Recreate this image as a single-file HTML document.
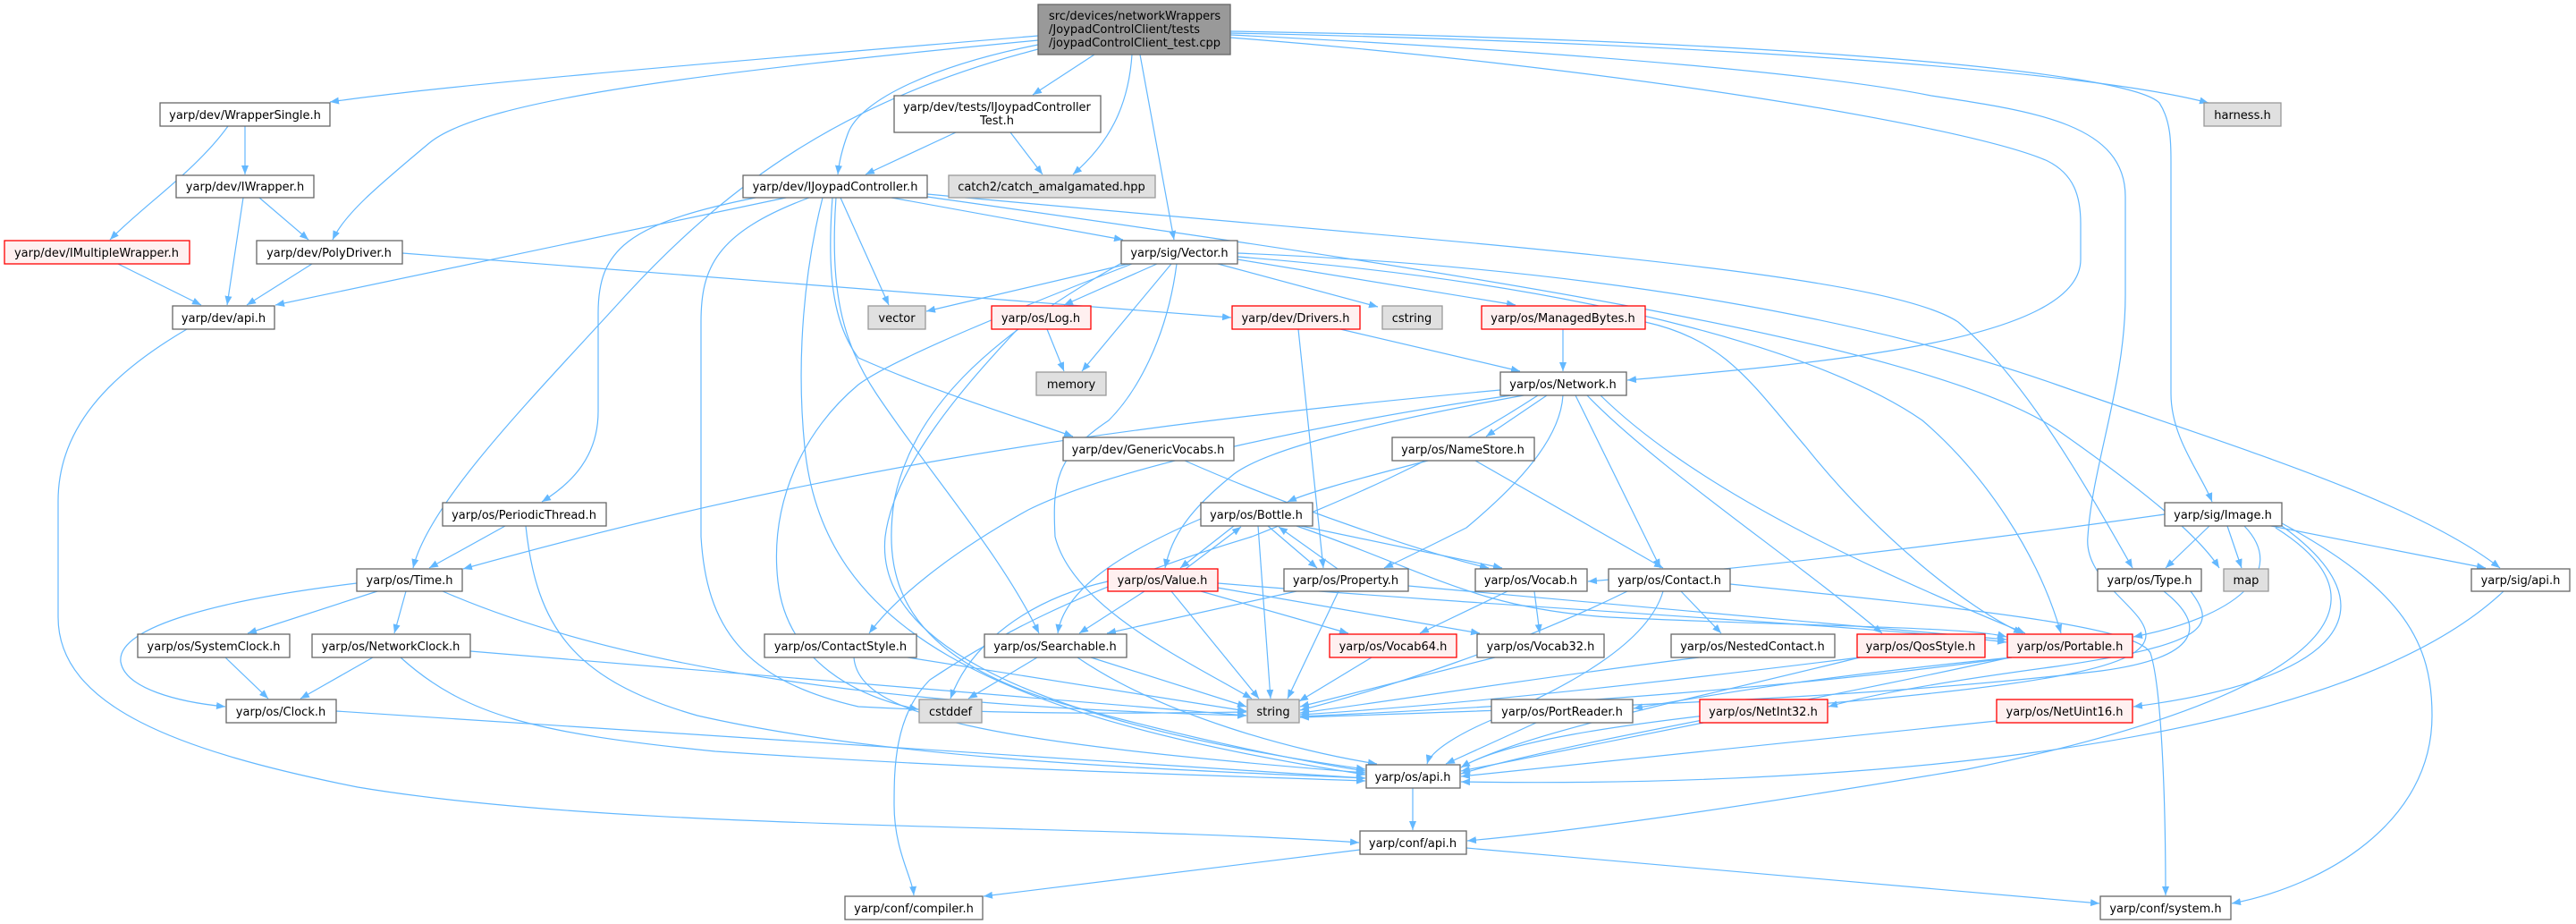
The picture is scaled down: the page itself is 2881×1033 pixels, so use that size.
<!DOCTYPE html>
<html><head><meta charset="utf-8"><style>
html,body{margin:0;padding:0;background:#fff;}
svg{display:block;}
.e{fill:none;stroke:#63b8ff;stroke-width:1.2;marker-end:url(#a);}
.n rect{fill:#fff;stroke:#666;stroke-width:1.3;}
.r rect{fill:#fff0f0;stroke:#ff0000;stroke-width:1.3;}
.g rect{fill:#e0e0e0;stroke:#999;stroke-width:1.3;}
.k rect{fill:#999;stroke:#666;stroke-width:1.3;}
text{font-family:"DejaVu Sans","Liberation Sans",sans-serif;font-size:13px;fill:#000;}
.c{text-anchor:middle;}
</style></head><body>
<svg width="2881" height="1033" viewBox="0 0 2881 1033" xmlns="http://www.w3.org/2000/svg">
<defs><marker id="a" markerUnits="userSpaceOnUse" markerWidth="11" markerHeight="8" refX="10" refY="4" orient="auto"><path d="M0,0 L10,4 L0,8 z" fill="#63b8ff"/></marker></defs>
<g>
<!-- root edges -->
<path class="e" d="M1161,40 C900,62 520,92 369,114"/>
<path class="e" d="M1161,45 C800,80 540,110 480,160 C420,210 385,240 372,268"/>
<path class="e" d="M1161,50 C1050,72 962,110 948,150 C940,172 938,185 937,195"/>
<path class="e" d="M1161,55 C950,110 820,200 700,330 C600,440 480,560 462,635"/>
<path class="e" d="M1224,61 L1155,106"/>
<path class="e" d="M1266,61 C1262,120 1240,160 1200,195"/>
<path class="e" d="M1275,61 L1313,268"/>
<path class="e" d="M1376,37 C1900,48 2330,78 2470,115"/>
<path class="e" d="M1376,42 C1800,75 2200,140 2290,180 C2320,195 2327,220 2327,250 L2327,290 C2327,380 2050,405 1820,425"/>
<path class="e" d="M1376,35 C2000,45 2380,80 2415,115 C2428,135 2428,160 2428,180 L2428,440 C2428,490 2462,530 2474,561"/>
<path class="e" d="M1376,39 C1800,60 2050,85 2160,107 C2280,125 2377,140 2377,220 L2377,330 C2377,430 2340,520 2335,600 C2330,650 2400,680 2400,710 C2400,745 2300,765 2000,790 C1800,810 1680,830 1634,858"/>
<!-- wrapper cluster -->
<path class="e" d="M274,141 L274,195"/>
<path class="e" d="M255,141 C220,190 160,230 123,268"/>
<path class="e" d="M290,221 L345,268"/>
<path class="e" d="M272,221 L254,341"/>
<path class="e" d="M132,295 L225,341"/>
<path class="e" d="M349,295 L276,341"/>
<path class="e" d="M450,283 L1377,355"/>
<path class="e" d="M209,368 C120,420 65,480 65,560 L65,690 C65,790 200,840 400,880 C700,930 1200,920 1520,942"/>
<!-- IJoypadController -->
<path class="e" d="M879,221 L308,341"/>
<path class="e" d="M845,221 C700,250 669,280 669,350 L669,460 C669,510 640,540 606,561"/>
<path class="e" d="M905,221 C800,260 784,300 784,360 L784,600 C790,700 830,760 960,790 C1150,800 1300,797 1394,796"/>
<path class="e" d="M931,221 C925,300 930,360 960,400 C1050,440 1150,470 1200,488"/>
<path class="e" d="M940,221 L994,341"/>
<path class="e" d="M997,221 L1256,268"/>
<path class="e" d="M935,221 C928,320 940,380 980,440 C1040,530 1120,620 1162,708"/>
<path class="e" d="M1037,217 C1600,270 2100,300 2190,360 C2260,420 2320,520 2385,635"/>
<path class="e" d="M1037,220 C1600,300 2150,380 2300,480 C2400,550 2460,600 2482,635"/>
<path class="e" d="M920,221 C900,300 890,400 900,500 C920,700 1100,800 1527,866"/>
<path class="e" d="M1069,148 L968,195"/>
<path class="e" d="M1130,148 L1166,195"/>
<!-- sig/Vector -->
<path class="e" d="M1262,295 L1036,348"/>
<path class="e" d="M1294,295 L1190,341"/>
<path class="e" d="M1310,295 L1210,415"/>
<path class="e" d="M1362,295 L1541,343"/>
<path class="e" d="M1384,290 L1695,341"/>
<path class="e" d="M1316,295 C1305,380 1270,440 1240,470 C1180,510 1177,540 1180,600 C1200,680 1330,740 1400,781"/>
<path class="e" d="M1266,295 C1150,340 1000,400 960,430 C900,480 860,560 870,650 C880,740 960,780 1027,793"/>
<path class="e" d="M1384,283 C1800,300 2100,360 2300,430 C2500,500 2700,560 2796,635"/>
<path class="e" d="M1384,287 C1800,320 2050,400 2150,470 C2220,530 2280,620 2305,708"/>
<path class="e" d="M1258,292 C1100,380 1020,460 1000,560 C985,660 1020,740 1200,790 C1350,830 1450,850 1527,862"/>
<!-- Log, Drivers, ManagedBytes -->
<path class="e" d="M1171,368 L1190,415"/>
<path class="e" d="M1138,368 C1080,430 1000,520 990,600 C980,700 1100,800 1527,860"/>
<path class="e" d="M1499,368 L1700,415"/>
<path class="e" d="M1452,368 L1480,635"/>
<path class="e" d="M1748,368 L1748,415"/>
<path class="e" d="M1840,360 C1930,380 1960,430 2020,500 C2100,600 2200,680 2262,708"/>
<!-- Network -->
<path class="e" d="M1730,442 L1662,488"/>
<path class="e" d="M1704,442 C1550,470 1420,500 1380,530 C1330,570 1310,600 1303,635"/>
<path class="e" d="M1748,442 C1745,490 1700,540 1640,590 C1600,610 1570,625 1548,635"/>
<path class="e" d="M1762,442 L1857,635"/>
<path class="e" d="M1775,442 C1850,520 2000,620 2105,708"/>
<path class="e" d="M1790,442 C1900,550 2100,640 2265,708"/>
<path class="e" d="M1678,436 C1200,480 900,530 518,636"/>
<path class="e" d="M1690,442 C1500,470 1250,520 1150,570 C1060,620 1000,670 972,708"/>
<path class="e" d="M1720,442 C1600,520 1500,560 1400,600 C1200,660 1100,720 1040,760 C1000,800 1000,860 1000,900 C1000,950 1020,980 1022,1001"/>
<!-- GenericVocabs, NameStore -->
<path class="e" d="M1325,515 C1450,570 1600,620 1665,635"/>
<path class="e" d="M1597,515 C1500,540 1460,552 1440,561"/>
<path class="e" d="M1650,515 L1860,635"/>
<!-- Bottle cluster -->
<path class="e" d="M1380,588 L1320,635"/>
<path class="e" d="M1326,636 L1388,589"/>
<path class="e" d="M1418,588 L1473,635"/>
<path class="e" d="M1496,636 L1430,589"/>
<path class="e" d="M1455,588 L1680,635"/>
<path class="e" d="M1407,588 L1421,781"/>
<path class="e" d="M1343,580 C1250,620 1190,660 1183,708"/>
<path class="e" d="M1450,588 C1600,640 1650,680 1800,690 C2000,700 2200,700 2244,712"/>
<path class="e" d="M1280,661 L1207,708"/>
<path class="e" d="M1310,661 L1408,781"/>
<path class="e" d="M1343,661 L1508,708"/>
<path class="e" d="M1350,655 L1655,708"/>
<path class="e" d="M1239,650 C1150,670 1085,720 1063,781"/>
<path class="e" d="M1362,652 C1700,680 2100,700 2244,718"/>
<path class="e" d="M1450,661 L1238,708"/>
<path class="e" d="M1497,661 L1440,781"/>
<path class="e" d="M1575,655 L2244,715"/>
<path class="e" d="M1686,661 L1588,708"/>
<path class="e" d="M1716,661 L1722,708"/>
<path class="e" d="M1534,735 L1453,784"/>
<path class="e" d="M1672,735 L1454,790"/>
<path class="e" d="M1880,661 L1925,708"/>
<path class="e" d="M1860,661 C1840,730 1720,780 1680,800 C1630,820 1600,840 1596,854"/>
<path class="e" d="M1935,653 C2200,680 2390,700 2405,730 C2418,770 2422,900 2422,1001"/>
<path class="e" d="M1820,661 C1700,720 1550,770 1454,794"/>
<path class="e" d="M1160,735 L1083,781"/>
<path class="e" d="M1220,735 L1394,790"/>
<path class="e" d="M1205,735 C1300,800 1450,840 1540,854"/>
<path class="e" d="M1015,735 L1394,795"/>
<path class="e" d="M955,735 C960,800 1100,830 1527,864"/>
<path class="e" d="M1900,735 C1700,760 1550,785 1454,797"/>
<path class="e" d="M2080,735 C1800,770 1600,790 1454,799"/>
<path class="e" d="M2250,735 C2000,770 1700,790 1454,801"/>
<!-- Time cluster -->
<path class="e" d="M422,661 L277,708"/>
<path class="e" d="M454,661 L441,708"/>
<path class="e" d="M399,652 C250,670 130,700 135,740 C140,770 200,785 252,790"/>
<path class="e" d="M495,661 C700,750 1000,790 1394,800"/>
<path class="e" d="M565,588 L480,635"/>
<path class="e" d="M588,588 C600,700 640,760 780,800 C1000,850 1300,860 1527,870"/>
<path class="e" d="M252,735 L300,781"/>
<path class="e" d="M417,735 L336,781"/>
<path class="e" d="M526,728 L1394,800"/>
<path class="e" d="M448,735 C520,800 600,820 800,840 C1100,860 1300,865 1527,873"/>
<path class="e" d="M376,795 C800,820 1200,850 1527,870"/>
<!-- api -->
<path class="e" d="M1580,881 L1580,928"/>
<path class="e" d="M1521,950 L1100,1002"/>
<path class="e" d="M1640,948 L2348,1010"/>
<path class="e" d="M1718,808 L1617,854"/>
<path class="e" d="M1905,808 L1634,862"/>
<path class="e" d="M2233,806 L1634,868"/>
<path class="e" d="M2080,735 C1900,780 1700,820 1634,858"/>
<path class="e" d="M2248,735 C2000,790 1750,830 1634,865"/>
<path class="e" d="M2250,735 C2000,760 1900,780 1827,792"/>
<path class="e" d="M2450,661 C2480,700 2470,720 2300,745 C2150,765 2080,780 2045,790"/>
<path class="e" d="M2420,661 C2470,700 2460,735 2350,750 C2100,780 1800,790 1454,802"/>
<!-- Image -->
<path class="e" d="M2421,575 C2100,620 1900,640 1776,650"/>
<path class="e" d="M2471,588 L2422,635"/>
<path class="e" d="M2491,588 L2507,635"/>
<path class="e" d="M2540,588 L2780,635"/>
<path class="e" d="M2510,588 C2560,640 2500,690 2386,712"/>
<path class="e" d="M2552,588 C2680,680 2620,760 2386,790"/>
<path class="e" d="M2552,585 C2690,660 2720,720 2720,800 C2720,920 2600,990 2496,1010"/>
<path class="e" d="M2545,590 C2720,700 2500,800 2200,860 C1900,910 1750,930 1641,940"/>
<path class="e" d="M2800,661 C2600,850 2000,880 1634,874"/>
</g>
<!-- nodes -->
<g class="k"><rect x="1161" y="5" width="215" height="56"/>
<text x="1173" y="22">src/devices/networkWrappers</text>
<text x="1173" y="37">/JoypadControlClient/tests</text>
<text x="1173" y="52">/joypadControlClient_test.cpp</text></g>
<g class="n"><rect x="1000" y="107" width="231" height="41"/>
<text class="c" x="1115" y="124">yarp/dev/tests/IJoypadController</text>
<text class="c" x="1115" y="139">Test.h</text></g>
<g class="n"><rect x="179" y="115" width="190" height="26"/><text class="c" x="274" y="133">yarp/dev/WrapperSingle.h</text></g>
<g class="n"><rect x="197" y="196" width="154" height="25"/><text class="c" x="274" y="213">yarp/dev/IWrapper.h</text></g>
<g class="r"><rect x="5" y="269" width="207" height="26"/><text class="c" x="108" y="287">yarp/dev/IMultipleWrapper.h</text></g>
<g class="n"><rect x="287" y="269" width="163" height="26"/><text class="c" x="368" y="287">yarp/dev/PolyDriver.h</text></g>
<g class="n"><rect x="193" y="342" width="114" height="26"/><text class="c" x="250" y="360">yarp/dev/api.h</text></g>
<g class="n"><rect x="831" y="196" width="206" height="25"/><text class="c" x="934" y="213">yarp/dev/IJoypadController.h</text></g>
<g class="g"><rect x="1061" y="196" width="231" height="25"/><text class="c" x="1176" y="213">catch2/catch_amalgamated.hpp</text></g>
<g class="n"><rect x="1254" y="269" width="130" height="26"/><text class="c" x="1319" y="287">yarp/sig/Vector.h</text></g>
<g class="g"><rect x="971" y="342" width="64" height="26"/><text class="c" x="1003" y="360">vector</text></g>
<g class="r"><rect x="1109" y="342" width="111" height="26"/><text class="c" x="1164" y="360">yarp/os/Log.h</text></g>
<g class="r"><rect x="1378" y="342" width="143" height="26"/><text class="c" x="1449" y="360">yarp/dev/Drivers.h</text></g>
<g class="g"><rect x="1546" y="342" width="67" height="26"/><text class="c" x="1579" y="360">cstring</text></g>
<g class="r"><rect x="1657" y="342" width="183" height="26"/><text class="c" x="1748" y="360">yarp/os/ManagedBytes.h</text></g>
<g class="g"><rect x="1159" y="416" width="78" height="26"/><text class="c" x="1198" y="434">memory</text></g>
<g class="n"><rect x="1678" y="416" width="141" height="26"/><text class="c" x="1748" y="434">yarp/os/Network.h</text></g>
<g class="n"><rect x="1189" y="489" width="191" height="26"/><text class="c" x="1284" y="507">yarp/dev/GenericVocabs.h</text></g>
<g class="n"><rect x="1557" y="489" width="159" height="26"/><text class="c" x="1636" y="507">yarp/os/NameStore.h</text></g>
<g class="g"><rect x="2465" y="115" width="86" height="26"/><text class="c" x="2508" y="133">harness.h</text></g>
<g class="n"><rect x="495" y="562" width="183" height="26"/><text class="c" x="586" y="580">yarp/os/PeriodicThread.h</text></g>
<g class="n"><rect x="399" y="636" width="118" height="25"/><text class="c" x="458" y="653">yarp/os/Time.h</text></g>
<g class="n"><rect x="154" y="709" width="170" height="26"/><text class="c" x="239" y="727">yarp/os/SystemClock.h</text></g>
<g class="n"><rect x="349" y="709" width="177" height="26"/><text class="c" x="437" y="727">yarp/os/NetworkClock.h</text></g>
<g class="n"><rect x="253" y="782" width="123" height="26"/><text class="c" x="314" y="800">yarp/os/Clock.h</text></g>
<g class="n"><rect x="855" y="709" width="170" height="26"/><text class="c" x="940" y="727">yarp/os/ContactStyle.h</text></g>
<g class="n"><rect x="1343" y="562" width="125" height="26"/><text class="c" x="1405" y="580">yarp/os/Bottle.h</text></g>
<g class="r"><rect x="1239" y="636" width="123" height="25"/><text class="c" x="1300" y="653">yarp/os/Value.h</text></g>
<g class="n"><rect x="1436" y="636" width="139" height="25"/><text class="c" x="1505" y="653">yarp/os/Property.h</text></g>
<g class="n"><rect x="1650" y="636" width="125" height="25"/><text class="c" x="1712" y="653">yarp/os/Vocab.h</text></g>
<g class="n"><rect x="1799" y="636" width="136" height="25"/><text class="c" x="1867" y="653">yarp/os/Contact.h</text></g>
<g class="n"><rect x="1101" y="709" width="159" height="26"/><text class="c" x="1180" y="727">yarp/os/Searchable.h</text></g>
<g class="r"><rect x="1487" y="709" width="142" height="26"/><text class="c" x="1558" y="727">yarp/os/Vocab64.h</text></g>
<g class="n"><rect x="1652" y="709" width="142" height="26"/><text class="c" x="1723" y="727">yarp/os/Vocab32.h</text></g>
<g class="n"><rect x="1869" y="709" width="183" height="26"/><text class="c" x="1960" y="727">yarp/os/NestedContact.h</text></g>
<g class="r"><rect x="2077" y="709" width="143" height="26"/><text class="c" x="2148" y="727">yarp/os/QosStyle.h</text></g>
<g class="r"><rect x="2245" y="709" width="140" height="26"/><text class="c" x="2315" y="727">yarp/os/Portable.h</text></g>
<g class="g"><rect x="1028" y="782" width="70" height="26"/><text class="c" x="1063" y="800">cstddef</text></g>
<g class="g"><rect x="1395" y="782" width="58" height="26"/><text class="c" x="1424" y="800">string</text></g>
<g class="n"><rect x="1668" y="782" width="158" height="26"/><text class="c" x="1747" y="800">yarp/os/PortReader.h</text></g>
<g class="r"><rect x="1901" y="782" width="143" height="26"/><text class="c" x="1972" y="800">yarp/os/NetInt32.h</text></g>
<g class="r"><rect x="2233" y="782" width="152" height="26"/><text class="c" x="2309" y="800">yarp/os/NetUint16.h</text></g>
<g class="n"><rect x="1528" y="855" width="105" height="26"/><text class="c" x="1580" y="873">yarp/os/api.h</text></g>
<g class="n"><rect x="1521" y="929" width="119" height="26"/><text class="c" x="1580" y="947">yarp/conf/api.h</text></g>
<g class="n"><rect x="945" y="1002" width="154" height="26"/><text class="c" x="1022" y="1020">yarp/conf/compiler.h</text></g>
<g class="n"><rect x="2349" y="1002" width="146" height="26"/><text class="c" x="2422" y="1020">yarp/conf/system.h</text></g>
<g class="n"><rect x="2421" y="562" width="131" height="26"/><text class="c" x="2486" y="580">yarp/sig/Image.h</text></g>
<g class="n"><rect x="2346" y="636" width="116" height="25"/><text class="c" x="2404" y="653">yarp/os/Type.h</text></g>
<g class="g"><rect x="2487" y="636" width="50" height="25"/><text class="c" x="2512" y="653">map</text></g>
<g class="n"><rect x="2764" y="636" width="110" height="25"/><text class="c" x="2819" y="653">yarp/sig/api.h</text></g>
</svg>
</body></html>
